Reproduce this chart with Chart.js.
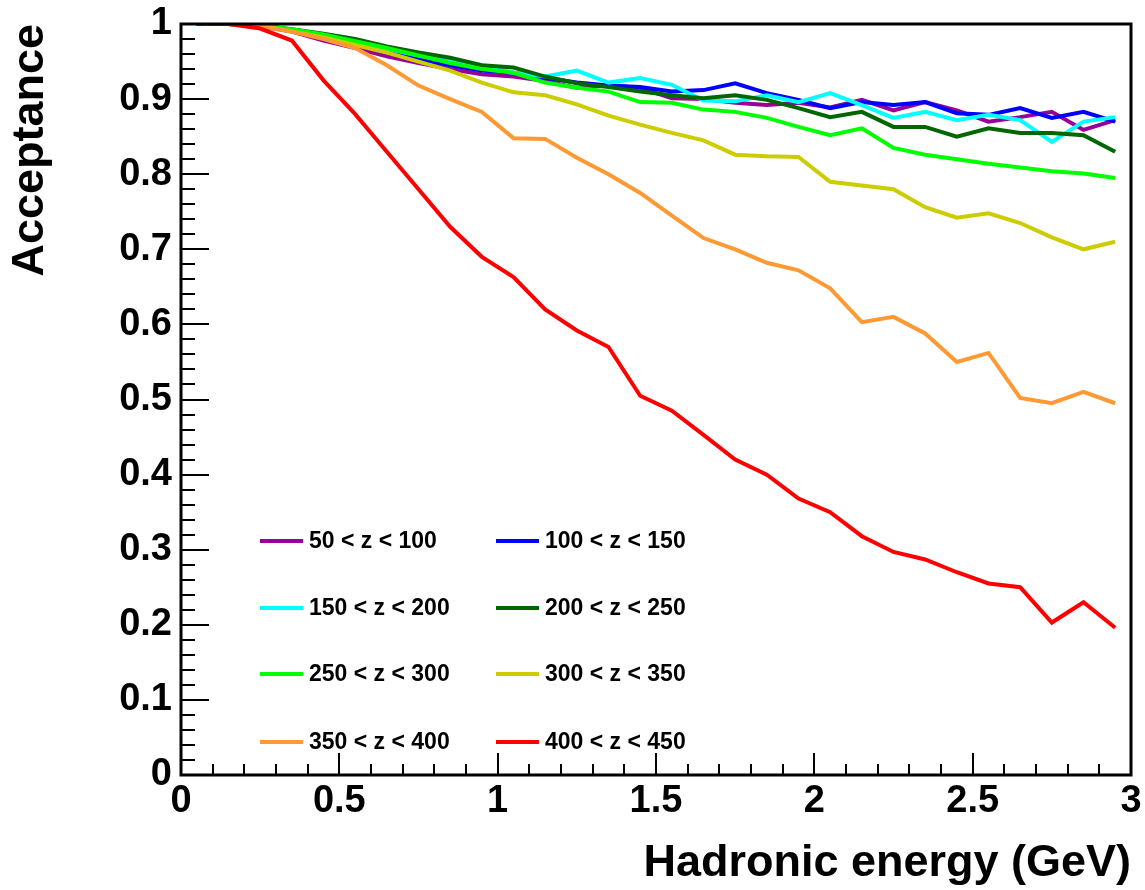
<!DOCTYPE html>
<html>
<head>
<meta charset="utf-8">
<title>Acceptance vs hadronic energy</title>
<script src="https://cdn.jsdelivr.net/npm/chart.js@4.4.1/dist/chart.umd.min.js"></script>
<style>
    html, body { margin: 0; padding: 0; background: #fff; }
    #wrap { width: 1145px; height: 890px; }
</style>
</head>
<body>
<div id="wrap"><canvas id="accChart" width="1145" height="890"></canvas></div>
<script>
// bin centres (GeV)
const energy = [0.05, 0.15, 0.25, 0.35, 0.45, 0.55, 0.65, 0.75, 0.85, 0.95,
                1.05, 1.15, 1.25, 1.35, 1.45, 1.55, 1.65, 1.75, 1.85, 1.95,
                2.05, 2.15, 2.25, 2.35, 2.45, 2.55, 2.65, 2.75, 2.85, 2.95];

const zLabels = ['50 < z < 100', '100 < z < 150', '150 < z < 200', '200 < z < 250',
                 '250 < z < 300', '300 < z < 350', '350 < z < 400', '400 < z < 450'];
const zColors = ['#990099', '#0000ff', '#00ffff', '#006600',
                 '#00ff00', '#cccc00', '#ff9933', '#ff0000'];

const acc50 = [1.0, 1.0, 0.997, 0.99, 0.978, 0.968, 0.957, 0.948, 0.94, 0.933,
               0.93, 0.924, 0.915, 0.918, 0.915, 0.901, 0.9, 0.895, 0.892, 0.895,
               0.889, 0.899, 0.885, 0.896, 0.885, 0.87, 0.876, 0.883, 0.859, 0.872];
const acc100 = [1.0, 1.0, 0.998, 0.992, 0.984, 0.975, 0.963, 0.953, 0.945, 0.938,
                0.935, 0.928, 0.922, 0.918, 0.916, 0.91, 0.912, 0.921, 0.908, 0.899,
                0.888, 0.896, 0.892, 0.896, 0.881, 0.879, 0.888, 0.875, 0.883, 0.87];
const acc150 = [1.0, 1.0, 0.998, 0.992, 0.985, 0.976, 0.967, 0.958, 0.95, 0.945,
                0.935, 0.93, 0.938, 0.922, 0.928, 0.919, 0.898, 0.897, 0.905, 0.896,
                0.908, 0.892, 0.875, 0.883, 0.872, 0.879, 0.872, 0.843, 0.87, 0.876];
const acc200 = [1.0, 1.0, 0.998, 0.993, 0.987, 0.98, 0.97, 0.962, 0.955, 0.945,
                0.942, 0.93, 0.921, 0.916, 0.91, 0.905, 0.901, 0.905, 0.899, 0.888,
                0.876, 0.883, 0.863, 0.863, 0.85, 0.861, 0.855, 0.855, 0.852, 0.83];
const acc250 = [1.0, 1.0, 0.998, 0.993, 0.986, 0.977, 0.968, 0.958, 0.948, 0.94,
                0.935, 0.922, 0.915, 0.91, 0.896, 0.895, 0.886, 0.883, 0.875, 0.863,
                0.852, 0.861, 0.835, 0.826, 0.82, 0.814, 0.809, 0.804, 0.801, 0.795];
const acc300 = [1.0, 1.0, 0.998, 0.99, 0.982, 0.972, 0.962, 0.95, 0.938, 0.922,
                0.909, 0.905, 0.893, 0.878, 0.866, 0.855, 0.845, 0.826, 0.824, 0.823,
                0.79, 0.785, 0.78, 0.756, 0.742, 0.748, 0.735, 0.716, 0.70, 0.71];
const acc350 = [1.0, 1.0, 0.997, 0.99, 0.98, 0.968, 0.945, 0.918, 0.9, 0.883,
                0.848, 0.847, 0.822, 0.80, 0.775, 0.745, 0.715, 0.70, 0.682, 0.672,
                0.648, 0.603, 0.61, 0.588, 0.55, 0.562, 0.502, 0.495, 0.51, 0.495];
const acc400 = [1.0, 1.0, 0.994, 0.978, 0.925, 0.88, 0.83, 0.78, 0.73, 0.69,
                0.663, 0.62, 0.592, 0.57, 0.505, 0.485, 0.453, 0.42, 0.40, 0.368,
                0.35, 0.318, 0.297, 0.287, 0.27, 0.255, 0.25, 0.203, 0.23, 0.196];

const allAcc = [acc50, acc100, acc150, acc200, acc250, acc300, acc350, acc400];

const FONT = '"Liberation Sans", Arial, Helvetica, sans-serif';

// ROOT-style frame with ticks pointing inwards
const framePlugin = {
    id: 'frame',
    afterDraw(chart) {
        const ctx = chart.ctx;
        const area = chart.chartArea;
        const xs = chart.scales.x;
        const ys = chart.scales.y;
        ctx.save();
        ctx.strokeStyle = '#000';
        ctx.lineWidth = 2;
        ctx.beginPath();
        for (let i = 1; i < 30; i++) {
            const px = Math.round(xs.getPixelForValue(i / 10));
            const len = (i % 5 === 0) ? 22 : 11;
            ctx.moveTo(px, area.bottom);
            ctx.lineTo(px, area.bottom - len);
        }
        for (let i = 1; i < 50; i++) {
            const py = Math.round(ys.getPixelForValue(i / 50));
            const len = (i % 5 === 0) ? 28 : 14;
            ctx.moveTo(area.left, py);
            ctx.lineTo(area.left + len, py);
        }
        ctx.stroke();
        ctx.lineWidth = 3;
        ctx.strokeRect(area.left, area.top, area.right - area.left, area.bottom - area.top);
        ctx.restore();
    }
};

// legend box inside the pad, two columns
const legendPlugin = {
    id: 'zLegend',
    afterDraw(chart) {
        const ctx = chart.ctx;
        const colX = [260, 496];
        const rowY = [541, 608, 674, 742];
        ctx.save();
        ctx.font = 'bold 23px ' + FONT;
        ctx.textBaseline = 'middle';
        ctx.textAlign = 'left';
        chart.data.datasets.forEach((ds, i) => {
            const x = colX[i % 2];
            const y = rowY[Math.floor(i / 2)];
            ctx.strokeStyle = ds.borderColor;
            ctx.lineWidth = 4;
            ctx.beginPath();
            ctx.moveTo(x, y);
            ctx.lineTo(x + 43, y);
            ctx.stroke();
            ctx.fillStyle = '#000';
            ctx.fillText(ds.label, x + 49, y + 1);
        });
        ctx.restore();
    }
};

const datasets = allAcc.map((values, i) => ({
    label: zLabels[i],
    data: values.map((v, j) => ({ x: energy[j], y: v })),
    borderColor: zColors[i],
    backgroundColor: zColors[i],
    borderWidth: 4,
    pointRadius: 0,
    tension: 0,
    fill: false,
    order: allAcc.length - i
}));

new Chart(document.getElementById('accChart').getContext('2d'), {
    type: 'line',
    data: { datasets: datasets },
    options: {
        responsive: false,
        animation: false,
        devicePixelRatio: 1,
        layout: { padding: { left: 0, top: 24, right: 14, bottom: 0 } },
        plugins: {
            legend: { display: false },
            tooltip: { enabled: false }
        },
        scales: {
            x: {
                type: 'linear',
                min: 0,
                max: 3,
                grid: { display: false, drawTicks: false },
                border: { display: false },
                ticks: {
                    stepSize: 0.5,
                    padding: 4,
                    color: '#000',
                    font: { family: FONT, size: 38, weight: 'bold' },
                    callback: v => +v.toFixed(1)
                },
                title: {
                    display: true,
                    text: 'Hadronic energy (GeV)',
                    align: 'end',
                    color: '#000',
                    font: { family: FONT, size: 45, weight: 'bold' },
                    padding: { top: 0, bottom: -1 }
                },
                afterFit(scale) {
                    scale.height = 115;
                    scale.paddingLeft = 0;
                    scale.paddingRight = 0;
                }
            },
            y: {
                type: 'linear',
                min: 0,
                max: 1,
                grid: { display: false, drawTicks: false },
                border: { display: false },
                ticks: {
                    stepSize: 0.1,
                    padding: 9,
                    color: '#000',
                    font: { family: FONT, size: 38, weight: 'bold' },
                    callback: v => +v.toFixed(1)
                },
                title: {
                    display: true,
                    text: 'Acceptance',
                    align: 'end',
                    color: '#000',
                    font: { family: FONT, size: 45, weight: 'bold' },
                    padding: { top: 4, bottom: 0 }
                },
                afterFit(scale) {
                    scale.width = 181;
                    scale.paddingTop = 0;
                    scale.paddingBottom = 0;
                }
            }
        }
    },
    plugins: [framePlugin, legendPlugin]
});
</script>
</body>
</html>
